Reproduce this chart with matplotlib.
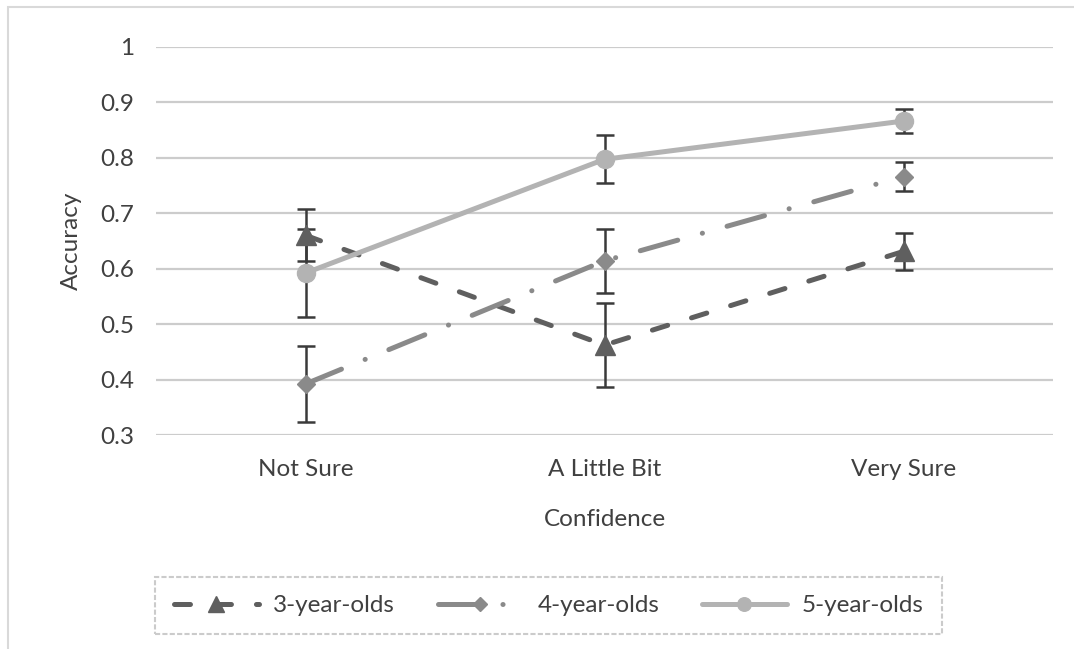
import matplotlib
matplotlib.use("Agg")
import matplotlib.pyplot as plt
from matplotlib.lines import Line2D
from matplotlib.patches import Rectangle

categories = ["Not Sure", "A Little Bit", "Very Sure"]
acc_3yo = [0.660, 0.462, 0.631]
err_3yo = [0.047, 0.076, 0.033]
acc_4yo = [0.392, 0.614, 0.766]
err_4yo = [0.068, 0.058, 0.027]
acc_5yo = [0.592, 0.797, 0.866]
err_5yo = [0.080, 0.043, 0.022]
series_names = ["3-year-olds", "4-year-olds", "5-year-olds"]
yticks = [0.3, 0.4, 0.5, 0.6, 0.7, 0.8, 0.9, 1.0]
ytick_labels = ["0.3", "0.4", "0.5", "0.6", "0.7", "0.8", "0.9", "1"]

plt.rcParams["font.family"] = ["Lato", "DejaVu Sans"]
plt.rcParams["lines.scale_dashes"] = False
text_col = "#404040"
fs = 17.5

fig = plt.figure(figsize=(10.74, 6.49), dpi=100)
ax = fig.add_axes([156 / 1074, 1 - 435 / 649, 897 / 1074, 388.3 / 649])

# outer chart border (only top/left visible)
fig.patches.append(Rectangle((8 / 1074, -0.05), 1.2, 1 - 7 / 649 + 0.05,
                             transform=fig.transFigure, fill=False,
                             edgecolor="#d9d9d9", lw=1.5))

x = list(range(len(categories)))
styles = [
    dict(color="#5f5f5f", marker="^", ms=14.5, dashes=(11.5, 18)),
    dict(color="#8a8a8a", marker="D", ms=9, dashes=(28, 18.4, 0.1, 18.4)),
    dict(color="#b3b3b3", marker="o", ms=13, dashes=None),
]
accs = [acc_3yo, acc_4yo, acc_5yo]
errs = [err_3yo, err_4yo, err_5yo]

handles = []
for acc, err, st, name in zip(accs, errs, styles, series_names):
    ax.errorbar(x, acc, yerr=err, fmt="none", ecolor="#3a3a3a", elinewidth=1.8,
                capsize=6.5, capthick=1.8, zorder=2)
    line, = ax.plot(x, acc, color=st["color"], lw=3.6, marker=st["marker"],
                    ms=st["ms"], mec=st["color"], mfc=st["color"],
                    solid_capstyle="round", dash_capstyle="round", zorder=3)
    if st["dashes"]:
        line.set_dashes(st["dashes"])
    h = Line2D([], [], color=st["color"], lw=3.6, marker=st["marker"],
               ms=st["ms"] * 0.75, mec=st["color"], mfc=st["color"],
               dash_capstyle="round", solid_capstyle="round")
    if st["dashes"]:
        h.set_dashes(st["dashes"])
    h.set_label(name)
    handles.append(h)

ax.set_xlim(-0.5, 2.5)
ax.set_ylim(0.3, 1.0)
ax.set_yticks(yticks)
ax.set_yticklabels(ytick_labels)
ax.set_xticks(x)
ax.set_xticklabels(categories)
ax.yaxis.grid(True, color="#cccccc", lw=1.6)
ax.set_axisbelow(True)
for s in ax.spines.values():
    s.set_visible(False)
ax.tick_params(axis="y", length=0, pad=16, labelsize=fs, labelcolor=text_col)
ax.tick_params(axis="x", length=0, pad=17, labelsize=fs, labelcolor=text_col)

ax.set_ylabel("Accuracy", fontsize=fs, color=text_col)
ax.yaxis.set_label_coords(-0.083, 0.5)
ax.set_xlabel("Confidence", fontsize=fs, color=text_col, va="top")
ax.xaxis.set_label_coords(0.5, -0.19)

leg = fig.legend(handles=handles, loc="center",
                 bbox_to_anchor=(548.5 / 1074, 1 - 605.5 / 649), ncol=3,
                 fontsize=fs, frameon=True, fancybox=False, handlelength=3.5,
                 handletextpad=0.6, columnspacing=1.75, borderpad=0.75,
                 numpoints=1, labelcolor=text_col)
frame = leg.get_frame()
frame.set_edgecolor("#bfbfbf")
frame.set_linestyle("--")
frame.set_linewidth(1.5)

fig.savefig("out.png", dpi=100)
